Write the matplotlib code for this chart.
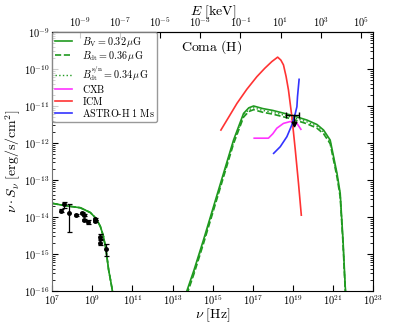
import numpy as np
import matplotlib
matplotlib.use("Agg")
import matplotlib.pyplot as plt

plt.rcParams['mathtext.fontset'] = 'cm'
plt.rcParams['font.family'] = ['cmr10', 'DejaVu Serif']
plt.rcParams['axes.formatter.use_mathtext'] = True
plt.rcParams['xtick.direction'] = 'in'
plt.rcParams['ytick.direction'] = 'in'

# ---------------- data (log10 values) ----------------
# radio synchrotron model (same for all three B models)
radio_lognu = [7.0, 7.5, 8.0, 8.4, 8.9, 9.2, 9.4, 9.55, 9.68, 9.81, 9.92, 10.0]
radio_logS_V = [-13.63, -13.68, -13.72, -13.75, -13.88, -14.05, -14.26, -14.52, -14.89, -15.43, -15.75, -16.0]
radio_logS_dt = [-13.63, -13.68, -13.72, -13.75, -13.88, -14.05, -14.26, -14.52, -14.89, -15.43, -15.75, -16.0]
radio_logS_sn = [-13.63, -13.68, -13.72, -13.75, -13.88, -14.05, -14.26, -14.52, -14.89, -15.43, -15.75, -16.0]

# inverse-Compton models
ic_lognu = [13.71, 14.07, 14.54, 15.04, 15.54, 16.04, 16.54, 16.8, 17.04, 17.5, 18.0,
            18.87, 19.7, 20.2, 20.53, 20.86, 21.2, 21.36, 21.5, 21.61, 21.63]
ic_logS_V = [-16.0, -15.43, -14.62, -13.72, -12.82, -11.92, -11.20, -11.05, -11.00, -11.07, -11.12,
             -11.24, -11.38, -11.50, -11.65, -11.92, -12.82, -13.36, -14.62, -15.88, -16.0]
ic_logS_sn = [-16.05, -15.48, -14.67, -13.77, -12.87, -11.97, -11.25, -11.10, -11.05, -11.12, -11.17,
              -11.29, -11.43, -11.55, -11.70, -11.97, -12.87, -13.41, -14.67, -15.93, -16.05]
ic_logS_dt = [-16.1, -15.53, -14.72, -13.82, -12.92, -12.02, -11.30, -11.15, -11.10, -11.17, -11.22,
              -11.34, -11.48, -11.60, -11.75, -12.02, -12.92, -13.46, -14.72, -15.98, -16.1]

# ICM thermal emission
icm_lognu = [15.41, 15.8, 16.21, 16.7, 17.2, 17.6, 17.95, 18.24, 18.4, 18.53, 18.66, 18.78,
             18.95, 19.12, 19.28, 19.42]
icm_logS = [-11.65, -11.30, -10.93, -10.55, -10.21, -9.98, -9.80, -9.68, -9.76, -9.89, -10.2,
            -10.57, -11.29, -12.19, -13.09, -13.95]

# CXB
cxb_lognu = [17.07, 17.78, 18.0, 18.2, 18.53, 18.87, 19.2, 19.40]
cxb_logS = [-11.87, -11.87, -11.75, -11.60, -11.47, -11.42, -11.47, -11.63]

# ASTRO-H 1 Ms sensitivity
ah_lognu = [18.04, 18.37, 18.70, 18.95, 19.12, 19.2, 19.23, 19.31]
ah_logS = [-12.28, -12.10, -11.83, -11.51, -11.20, -11.02, -10.75, -10.28]

# radio data
rd_lognu = [7.43, 7.58, 7.85, 8.17, 8.47, 8.60, 8.60, 8.77, 9.13, 9.13, 9.40, 9.40, 9.68]
rd_logS = [-13.83, -13.66, -13.88, -13.95, -13.90, -13.95, -14.08, -14.14, -14.05, -14.11, -14.53, -14.69, -14.87]
rd_err_frac = [0.10, 0.18, 0.70, 0.05, 0.06, 0.05, 0.08, 0.12, 0.07, 0.08, 0.15, 0.15, 0.35]

# hard X-ray upper limit
hxr_lognu = [19.08]
hxr_lognu_lo = [18.67]
hxr_lognu_hi = [19.28]
hxr_logS_top = [-11.24]
hxr_logS = [-11.50]

h_keV = 4.135667e-18  # keV s

# ---------------- plotting ----------------
fig = plt.figure(figsize=(4.15, 3.23), dpi=100)
ax = fig.add_axes([0.126, 0.099, 0.773, 0.802])

g = '#209a20'
p = lambda a: 10.0 ** np.asarray(a)

ax.plot(p(radio_lognu), p(radio_logS_V), color=g, lw=1.2, label=r'$B_{\rm V}=0.32\,\mu{\rm G}$')
ax.plot(p(radio_lognu), p(radio_logS_dt), color=g, lw=1.2, ls='--', label=r'$B_{\rm dt}=0.36\,\mu{\rm G}$')
ax.plot(p(radio_lognu), p(radio_logS_sn), color=g, lw=1.0, ls=':', label=r'$B_{\rm dt}^{\rm s/n}=0.34\,\mu{\rm G}$')
ax.plot(p(ic_lognu), p(ic_logS_V), color=g, lw=1.2)
ax.plot(p(ic_lognu), p(ic_logS_dt), color=g, lw=1.2, ls='--')
ax.plot(p(ic_lognu), p(ic_logS_sn), color=g, lw=1.0, ls=':')

ax.plot(p(cxb_lognu), p(cxb_logS), color='#ff33ff', lw=1.2, label=r'$\mathrm{CXB}$')
ax.plot(p(icm_lognu), p(icm_logS), color='#ff3333', lw=1.2, label=r'$\mathrm{ICM}$')
ax.plot(p(ah_lognu), p(ah_logS), color='#3333ff', lw=1.2, label=r'$\mathrm{ASTRO}$-$\mathrm{H\ 1\ Ms}$')

rd_y = p(rd_logS)
ax.errorbar(p(rd_lognu), rd_y, yerr=rd_y * np.asarray(rd_err_frac), fmt='o', ms=2.5,
            color='black', ecolor='black', elinewidth=0.9, capsize=1.8, capthick=0.9, zorder=5)

# hard X-ray limit
hx = p(hxr_lognu)
ax.errorbar(hx, p(hxr_logS_top), xerr=[hx - p(hxr_lognu_lo), p(hxr_lognu_hi) - hx],
            fmt='none', ecolor='black', elinewidth=1.0, capsize=2, zorder=6)
for xx, yt, yb in zip(hx, p(hxr_logS_top), p(hxr_logS)):
    ax.plot([xx, xx], [yt, yb], color='black', lw=1.0, zorder=6)
ax.plot(hx, p(hxr_logS), 'v', color='black', ms=3.5, zorder=6)

ax.set_xscale('log')
ax.set_yscale('log')
ax.set_xlim(1e7, 1e23)
ax.set_ylim(1e-16, 1e-9)
ax.set_xlabel(r'$\nu\ [\mathrm{Hz}]$', fontsize=10)
ax.set_ylabel(r'$\nu\cdot S_\nu\ [\mathrm{erg/s/cm^2}]$', fontsize=10)
ax.xaxis.set_label_coords(0.5, -0.058)
ax.yaxis.set_label_coords(-0.092, 0.5)
ax.tick_params(which='both', right=True, top=False, labelsize=7.5, pad=2)
ax.tick_params(which='major', length=4)
ax.tick_params(which='minor', length=2)
ax.spines['left'].set_color('0.45')

sec = ax.secondary_xaxis('top', functions=(lambda x: x * h_keV, lambda e: e / h_keV))
sec.set_xlabel(r'$E\ [\mathrm{keV}]$', fontsize=10, labelpad=0)
sec.tick_params(which='both', direction='in', labelsize=7.5, pad=2)
sec.tick_params(which='major', length=4)
sec.tick_params(which='minor', length=2)

ax.text(0.40, 0.94, r'$\mathrm{Coma\ (H)}$', transform=ax.transAxes, fontsize=10,
        ha='left', va='center')

leg = ax.legend(loc='upper left', fontsize=7.3, borderaxespad=0.0, handlelength=1.6,
                labelspacing=0.0, handletextpad=1.0, borderpad=0.3, fancybox=True)
leg.get_frame().set_edgecolor('0.5')

fig.savefig('out.png', dpi=100)
